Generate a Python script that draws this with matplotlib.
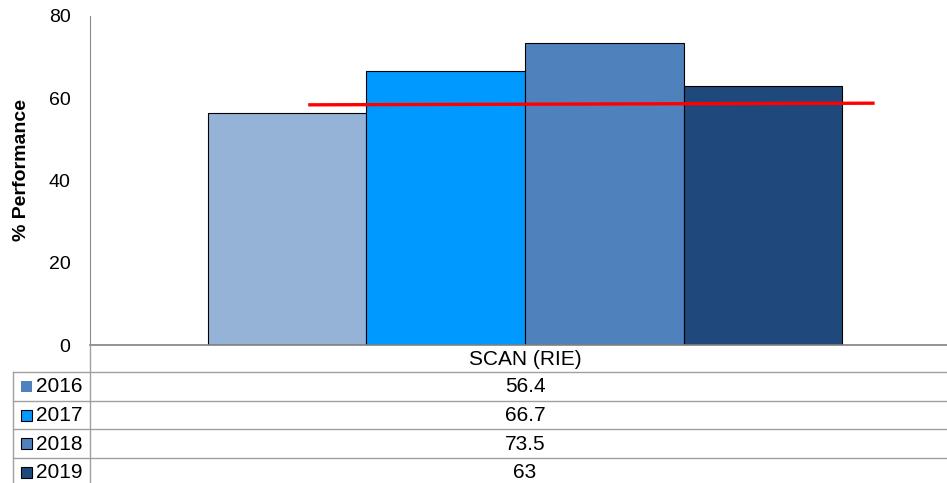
"""SCAN (RIE) yearly performance bar chart with data table."""

import matplotlib

matplotlib.use("Agg")
import matplotlib.pyplot as plt
from matplotlib.lines import Line2D
from matplotlib.patches import Rectangle

plt.rcParams["font.family"] = ["Liberation Sans", "DejaVu Sans"]

years = ["2016", "2017", "2018", "2019"]
scores = [56.4, 66.7, 73.5, 63]
category = "SCAN (RIE)"
bar_colors = ["#95B3D7", "#0099FF", "#4F81BD", "#1F497D"]
key_colors = ["#4F81BD", "#0099FF", "#4F81BD", "#1F497D"]
target_x = [-0.251, 0.406]
target_y = [58.4, 58.8]

W, H = 947, 483


def fx(px):
    return px / W


def fy(py):
    return 1 - py / H


fig = plt.figure(figsize=(W / 100, H / 100), dpi=100)
ax = fig.add_axes([fx(90), fy(345), fx(947) - fx(90), fy(16) - fy(345)])

width = 0.185
offsets = [(i - 1.5) * width for i in range(len(years))]
ax.bar(offsets, scores, width=width, color=bar_colors, edgecolor="black", linewidth=0.8, zorder=2)
ax.plot(target_x, target_y, color="#FF0000", linewidth=2.4, zorder=3)

ax.set_xlim(-0.5076, 0.4924)
ax.set_ylim(0, 80)
ax.set_yticks([0, 20, 40, 60, 80])
ax.tick_params(axis="y", length=0, labelsize=14, pad=14)
ax.set_xticks([])
for side in ("top", "right"):
    ax.spines[side].set_visible(False)
ax.spines["left"].set_color("#8C8C8C")
ax.spines["bottom"].set_color("#808080")
ax.spines["bottom"].set_linewidth(1.2)
ax.set_ylabel("% Performance", fontsize=14, fontweight="bold")
ax.yaxis.set_label_coords((22 - 90) / 857, (345 - 170) / 329)
ax.yaxis.label.set_verticalalignment("center")

# data table under the axis
grid = "#A0A0A0"
fig.add_artist(Line2D([fx(90), fx(90)], [fy(345), 0], transform=fig.transFigure, color=grid, lw=1))
fig.add_artist(Line2D([fx(13), fx(13)], [fy(372), 0], transform=fig.transFigure, color=grid, lw=1))
for py in (372, 400.5, 429, 457.5):
    fig.add_artist(Line2D([fx(13), 1], [fy(py), fy(py)], transform=fig.transFigure, color=grid, lw=1))

center_x = fx(525)
cell_size = 15
fig.text(center_x, fy(359.5), category, ha="center", va="center", fontsize=cell_size)
row_centers = [387, 415.5, 444, 472.5]
for year, value, key, cy in zip(years, scores, key_colors, row_centers):
    fig.add_artist(Rectangle((fx(21), fy(cy + 5)), fx(11), fy(cy - 6) - fy(cy + 5),
                             transform=fig.transFigure, facecolor=key,
                             edgecolor="none" if year == "2016" else "black", lw=0.8))
    fig.text(fx(36), fy(cy), year, ha="left", va="center", fontsize=cell_size)
    fig.text(center_x, fy(cy), f"{value:g}", ha="center", va="center", fontsize=cell_size)

fig.savefig("out.png", dpi=100)
